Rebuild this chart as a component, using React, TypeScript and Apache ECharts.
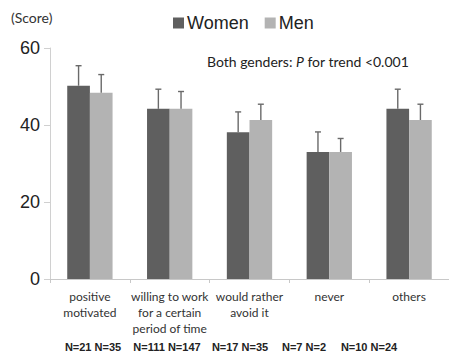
import React, { useEffect, useRef } from "react";
import * as echarts from "echarts";

const categories = [
  "positive\nmotivated",
  "willing to work\nfor a certain\nperiod of time",
  "would rather\navoid it",
  "never",
  "others",
];
const womenValues = [50.2, 44.2, 38.1, 33.0, 44.2];
const menValues = [48.4, 44.2, 41.3, 33.0, 41.3];
const womenUpper = [55.4, 49.3, 43.4, 38.2, 49.3];
const menUpper = [53.1, 48.7, 45.4, 36.5, 45.4];
const nLabels = ["N=21 N=35", "N=111 N=147", "N=17 N=35", "N=7 N=2", "N=10 N=24"];
const nLabelCenters = [93, 167, 240, 304, 369];
const yTicks = [0, 20, 40, 60];

const WOMEN = "#5f5f5f";
const MEN = "#b3b3b3";
const BAR_FRAC = 0.284;

function errorRender(values: number[], upper: number[], side: number) {
  return (params: any, api: any) => {
    const i = api.value(0);
    const band = api.size([1, 0])[0];
    const bw = band * BAR_FRAC;
    const base = api.coord([i, values[i]]);
    const top = api.coord([i, upper[i]]);
    const x = base[0] + side * bw / 2;
    const style = { stroke: "#6a6a6a", lineWidth: 1.4 };
    return {
      type: "group",
      children: [
        { type: "line", shape: { x1: x, y1: base[1], x2: x, y2: top[1] }, style },
        { type: "line", shape: { x1: x - 3, y1: top[1], x2: x + 3, y2: top[1] }, style },
      ],
    };
  };
}

export default function App() {
  const ref = useRef<HTMLDivElement>(null);
  useEffect(() => {
    if (!ref.current) return;
    const chart = echarts.init(ref.current, undefined, { renderer: "svg" });
    chart.setOption({
      animation: false,
      backgroundColor: "#ffffff",
      legend: {
        left: 168,
        top: 9,
        itemWidth: 11,
        itemHeight: 11,
        itemGap: 16,
        icon: "rect",
        textStyle: { fontFamily: "Liberation Sans", fontSize: 18, color: "#222", padding: [0, 0, 0, -2] },
        data: ["Women", "Men"],
      },
      grid: { left: 50, right: -6, top: 48, bottom: 79, containLabel: false },
      xAxis: {
        type: "category",
        data: categories,
        axisLine: { lineStyle: { color: "#c8c8c8", width: 1 } },
        axisTick: { show: true, length: 4, lineStyle: { color: "#c8c8c8" } },
        axisLabel: {
          fontFamily: "Lato",
          fontSize: 12,
          color: "#333",
          lineHeight: 16,
          margin: 9,
          interval: 0,
        },
      },
      yAxis: {
        type: "value",
        min: 0,
        max: 60,
        interval: 20,
        splitLine: { show: false },
        axisLine: { show: true, lineStyle: { color: "#d0d0d0", width: 1 } },
        axisTick: { show: true, length: 6, lineStyle: { color: "#d0d0d0" } },
        axisLabel: {
          fontFamily: "Liberation Sans",
          fontSize: 18,
          color: "#222",
          margin: 10,
          formatter: (v: number) => (yTicks.includes(v) ? String(v) : ""),
        },
      },
      series: [
        {
          name: "Women",
          type: "bar",
          data: womenValues,
          barWidth: (BAR_FRAC * 100).toFixed(1) + "%",
          barGap: "0%",
          itemStyle: { color: WOMEN },
          z: 2,
        },
        {
          name: "Men",
          type: "bar",
          data: menValues,
          barWidth: (BAR_FRAC * 100).toFixed(1) + "%",
          barGap: "0%",
          itemStyle: { color: MEN },
          z: 2,
        },
        {
          type: "custom",
          data: womenValues.map((v, i) => [i, v]),
          renderItem: errorRender(womenValues, womenUpper, -1),
          z: 3,
          silent: true,
        },
        {
          type: "custom",
          data: menValues.map((v, i) => [i, v]),
          renderItem: errorRender(menValues, menUpper, 1),
          z: 3,
          silent: true,
        },
      ],
      graphic: [
        {
          type: "text",
          left: 11,
          top: 10,
          style: { text: "(Score)", fontFamily: "Lato", fontSize: 14, fill: "#333" },
        },
        {
          type: "text",
          left: 207,
          top: 54,
          style: {
            text: "{a|Both genders: }{b|P}{a| for trend <0.001}",
            rich: {
              a: { fontFamily: "Lato", fontSize: 14, fill: "#222" },
              b: { fontFamily: "Lato", fontSize: 14, fontStyle: "italic", fill: "#222" },
            },
          },
        },
        ...nLabels.map((t, i) => ({
          type: "text",
          x: nLabelCenters[i],
          y: 347,
          style: {
            text: t,
            fontFamily: "Liberation Sans",
            fontSize: 11,
            fontWeight: "bold",
            fill: "#222",
            align: "center",
            verticalAlign: "middle",
          },
        })),
      ],
    });
    return () => chart.dispose();
  }, []);
  return <div ref={ref} style={{ width: 449, height: 358, position: "absolute", left: 0, top: 0 }} />;
}
